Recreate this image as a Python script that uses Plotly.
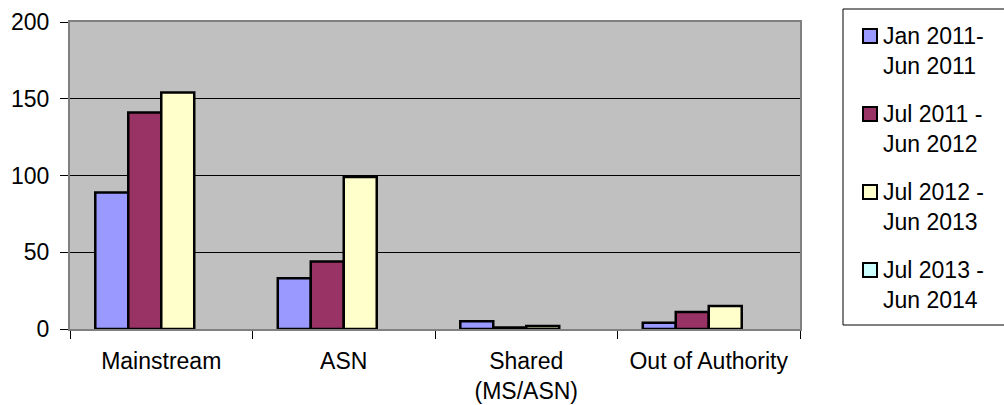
import plotly.graph_objects as go

# Referral counts by category and reporting period
categories = ["Mainstream", "ASN", "Shared<br>(MS/ASN)", "Out of Authority"]
periods = ["Jan 2011-<br>Jun 2011", "Jul 2011 -<br>Jun 2012",
           "Jul 2012 -<br>Jun 2013", "Jul 2013 -<br>Jun 2014"]
jan11_jun11 = [89, 33, 5, 4]
jul11_jun12 = [141, 44, 1, 11]
jul12_jun13 = [154, 99, 2, 15]
jul13_jun14 = [None, None, None, None]

series = [jan11_jun11, jul11_jun12, jul12_jun13, jul13_jun14]
colors = ["#9999FF", "#993366", "#FFFFCC", "#CCFFFF"]

FONT = "Liberation Sans, Arial, sans-serif"
FS = 23

# plot area in pixels
L, R, T, B = 70, 800, 22, 329
W, H = 1004, 405


def px_x(px):
    return (px - L) / (R - L)


def px_y(py):
    return (B - py) / (B - T)


fig = go.Figure()
for name, vals, col in zip(periods, series, colors):
    fig.add_trace(go.Bar(
        x=categories, y=vals, name=name,
        marker=dict(color=col, line=dict(color="black", width=2.5)),
    ))

# legend box drawn beside the plot
shapes = [dict(type="rect", xref="paper", yref="paper",
               x0=px_x(843), x1=px_x(1010), y0=px_y(325), y1=px_y(9),
               line=dict(color="black", width=1), fillcolor="white", layer="below")]
annotations = []
for i, (name, col) in enumerate(zip(periods, colors)):
    mid = 51 + 78 * i
    sq = mid - 15
    shapes.append(dict(type="rect", xref="paper", yref="paper",
                       x0=px_x(863), x1=px_x(877), y0=px_y(sq + 7), y1=px_y(sq - 7),
                       line=dict(color="black", width=2), fillcolor=col))
    annotations.append(dict(xref="paper", yref="paper", x=px_x(881), y=px_y(mid),
                            xanchor="left", yanchor="middle", align="left",
                            text=name, showarrow=False,
                            font=dict(family=FONT, size=FS, color="black")))

fig.update_layout(
    width=W, height=H,
    margin=dict(l=L, r=W - R, t=T, b=H - B),
    paper_bgcolor="white", plot_bgcolor="#C0C0C0",
    barmode="group", bargap=0.277, bargroupgap=0,
    font=dict(family=FONT, size=FS, color="black"),
    showlegend=False,
    shapes=shapes, annotations=annotations,
)
fig.update_xaxes(
    showgrid=False, tickson="boundaries", ticks="outside", ticklen=8,
    tickcolor="black", showline=True, linecolor="#808080", linewidth=2,
    mirror=True, tickfont=dict(size=FS), ticklabelstandoff=10, automargin=False,
)
fig.update_yaxes(
    range=[0, 200], dtick=50, showgrid=True, gridcolor="black", gridwidth=1,
    ticks="outside", ticklen=8, tickcolor="black", showline=True,
    linecolor="#808080", linewidth=2, mirror=True, zeroline=False,
    tickfont=dict(size=FS), ticklabelstandoff=6, automargin=False,
)

fig.write_html("out.html")
